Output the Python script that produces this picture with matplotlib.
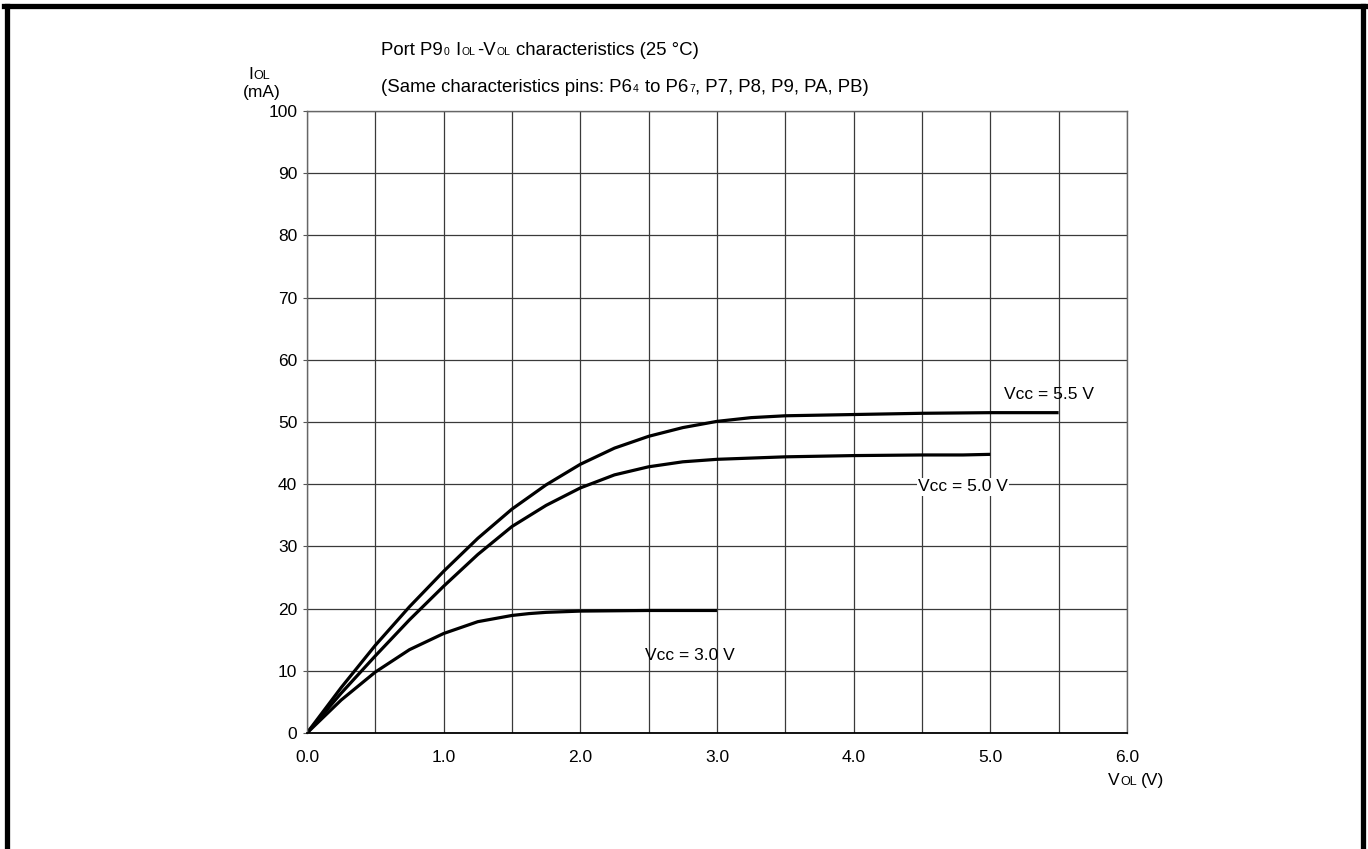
import matplotlib
matplotlib.use("Agg")
import matplotlib.pyplot as plt
from matplotlib.lines import Line2D

plt.rcParams["font.family"] = ["Liberation Sans", "DejaVu Sans"]

# Datos (VOL en V, IOL en mA)
vol_55 = [0.0, 0.25, 0.5, 0.75, 1.0, 1.25, 1.5, 1.75, 2.0, 2.25, 2.5, 2.75, 3.0, 3.25, 3.5, 4.0, 4.5, 5.0, 5.5]
iol_55 = [0.0, 7.3, 14.1, 20.3, 26.0, 31.3, 36.0, 39.9, 43.2, 45.8, 47.7, 49.1, 50.1, 50.7, 51.0, 51.2, 51.4, 51.5, 51.5]

vol_50 = [0.0, 0.25, 0.5, 0.75, 1.0, 1.25, 1.5, 1.75, 2.0, 2.25, 2.5, 2.75, 3.0, 3.5, 4.0, 4.5, 4.8, 5.0]
iol_50 = [0.0, 6.4, 12.4, 18.2, 23.6, 28.7, 33.2, 36.6, 39.4, 41.5, 42.8, 43.6, 44.0, 44.4, 44.6, 44.7, 44.7, 44.8]

vol_30 = [0.0, 0.25, 0.5, 0.75, 1.0, 1.25, 1.5, 1.625, 1.75, 2.0, 2.5, 3.0]
iol_30 = [0.0, 5.3, 9.8, 13.4, 16.0, 17.9, 18.9, 19.2, 19.4, 19.6, 19.7, 19.7]

x_ticks = [0.0, 1.0, 2.0, 3.0, 4.0, 5.0, 6.0]
y_ticks = [0, 10, 20, 30, 40, 50, 60, 70, 80, 90, 100]

W, H = 1368, 849
fig = plt.figure(figsize=(W / 100, H / 100), dpi=100)
ax = fig.add_axes([0.2244, 0.1366, 0.5994, 0.7327])

grid_x = [i * 0.5 for i in range(13)]
ax.set_xlim(0, 6)
ax.set_ylim(0, 100)
ax.set_xticks(grid_x)
ax.set_xticklabels([f"{v:.1f}" if v in x_ticks else "" for v in grid_x], fontsize=12.5)
ax.set_yticks(y_ticks)
ax.set_yticklabels([str(v) for v in y_ticks], fontsize=12.5)
ax.tick_params(axis="x", length=0, pad=12)
ax.tick_params(axis="y", length=3, direction="out", color="#555555", pad=4)
ax.grid(True, color="#3a3a3a", lw=0.9)
for s in ax.spines.values():
    s.set_color("#666666")
    s.set_linewidth(1.0)
ax.spines["bottom"].set_color("black")
ax.spines["bottom"].set_linewidth(1.3)

kw = dict(color="black", lw=2.3, solid_capstyle="butt", solid_joinstyle="round")
ax.plot(vol_55, iol_55, **kw)
ax.plot(vol_50, iol_50, **kw)
ax.plot(vol_30, iol_30, **kw)

ax.text(5.43, 54.4, "Vcc = 5.5 V", fontsize=12.5, ha="center", va="center")
ax.text(4.8, 39.6, "Vcc = 5.0 V", fontsize=12.5, ha="center", va="center",
        bbox=dict(facecolor="white", edgecolor="none", pad=1))
ax.text(2.8, 12.4, "Vcc = 3.0 V", fontsize=12.5, ha="center", va="center")

# texto con subíndices pequeños sobre la misma línea base (x, y en píxeles desde abajo)
renderer = fig.canvas.get_renderer()


def rich(x, y, parts):
    for s, size, gap in parts:
        x += gap
        t = fig.text(x / W, y / H, s, fontsize=size, ha="left", va="baseline")
        x = t.get_window_extent(renderer).x1


T, S = 13.4, 7.5
sp = 0.278 * T * 100 / 72
rich(381, 794, [("Port P9", T, 0), ("0", S, 1), ("I", T, sp + 1), ("OL", S, 1),
                ("-V", T, 1), ("OL", S, 1), ("characteristics (25 °C)", T, sp + 1)])
rich(381, 757, [("(Same characteristics pins: P6", T, 0), ("4", S, 1), ("to P6", T, sp + 1),
                ("7", S, 1), (", P7, P8, P9, PA, PB)", T, 0)])

rich(248, 770, [("I", 12.5, 0), ("OL", 9, 1)])
fig.text(262 / W, 1 - 92 / H, "(mA)", fontsize=12.5, ha="center", va="center")
rich(1108, 64, [("V", 12.5, 0), ("OL", 9, 1), ("(V)", 12.5, 4)])

# Marco exterior
for xs, ys in [([6.5, 6.5], [0, 843]), ([1362.5, 1362.5], [0, 843]), ([4, 1365], [843, 843])]:
    fig.add_artist(Line2D([v / W for v in xs], [v / H for v in ys],
                          transform=fig.transFigure, color="black", lw=3.8))

fig.savefig("out.png", dpi=100)
